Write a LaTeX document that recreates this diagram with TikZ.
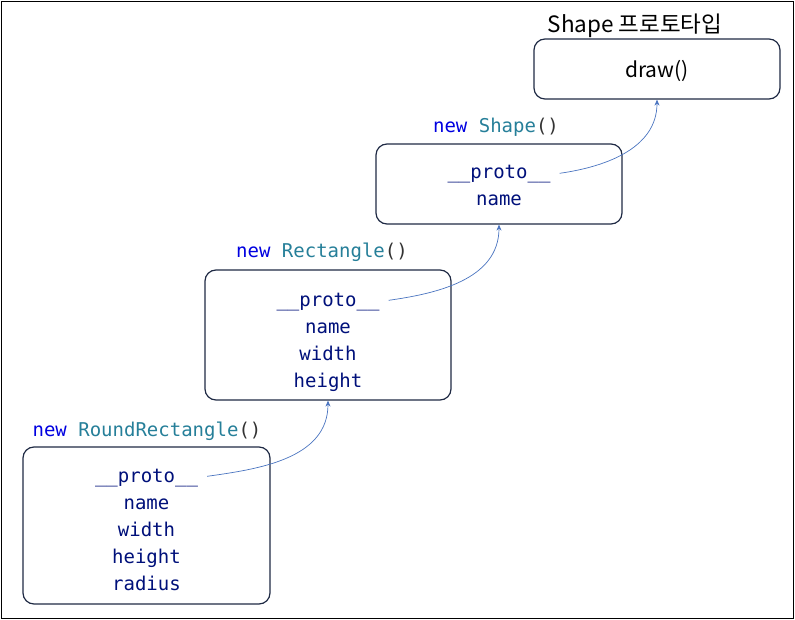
\documentclass[tikz,border=0pt]{standalone}
\usepackage{fontspec}
\newfontfamily\kr{Noto Sans CJK KR}
\newfontfamily\mono{DejaVu Sans Mono}
\usetikzlibrary{arrows.meta}
\definecolor{kwblue}{HTML}{0000E0}
\definecolor{clsteal}{HTML}{267F99}
\definecolor{fieldnavy}{HTML}{00107A}
\definecolor{boxline}{HTML}{1F2A44}
\definecolor{arrowblue}{HTML}{4A74C0}
\tikzset{
  box/.style={draw=boxline, line width=1.2pt, rounded corners=11pt, inner sep=0pt},
  field/.style={font=\mono\fontsize{19}{23}\selectfont, text=fieldnavy, anchor=base, inner sep=0pt},
  lbl/.style={font=\mono\fontsize{19}{23}\selectfont, anchor=base, inner sep=0pt},
  link/.style={draw=arrowblue, line width=0.7pt, shorten <=9pt, -{Stealth[length=6pt,width=5pt]}},
}
\begin{document}
\begin{tikzpicture}[x=1pt,y=-1pt]
\useasboundingbox (0,0) rectangle (795,620);
\draw[black, line width=1.4pt] (1.5,1.5) rectangle (793.5,618.5);

% prototype box
\node[box, minimum width=246pt, minimum height=60pt] (protobox) at (657,69) {};
\node[font=\kr\fontsize{22.5}{26}\selectfont, anchor=base, inner sep=0pt] (protolbl) at (635,33) {Shape 프로토타입};
\node[font=\kr\fontsize{21}{24}\selectfont, anchor=base, inner sep=0pt] (drawfn) at (657,78) {draw()};

% Shape box
\node[box, minimum width=246pt, minimum height=80pt] (shapebox) at (499,184) {};
\node[lbl] (shapelbl) at (496,133) {\textcolor{kwblue}{new} \textcolor{clsteal}{Shape}\textcolor{black!80}{()}};
\node[field] (sp) at (499,179) {\_\_proto\_\_};
\node[field] (sn) at (499,206) {name};

% Rectangle box
\node[box, minimum width=246pt, minimum height=130pt] (rectbox) at (328,335) {};
\node[lbl] (rectlbl) at (322,258) {\textcolor{kwblue}{new} \textcolor{clsteal}{Rectangle}\textcolor{black!80}{()}};
\node[field] (rp) at (328,306) {\_\_proto\_\_};
\node[field] (rn) at (328,333) {name};
\node[field] (rw) at (328,360) {width};
\node[field] (rh) at (328,387) {height};

% RoundRectangle box
\node[box, minimum width=247pt, minimum height=157pt] (rrbox) at (146.5,525.5) {};
\node[lbl] (rrlbl) at (147,436) {\textcolor{kwblue}{new} \textcolor{clsteal}{RoundRectangle}\textcolor{black!80}{()}};
\node[field] (qp) at (146.5,482) {\_\_proto\_\_};
\node[field] (qn) at (146.5,509) {name};
\node[field] (qw) at (146.5,536) {width};
\node[field] (qh) at (146.5,563) {height};
\node[field] (qr) at (146.5,590) {radius};

% prototype links
\draw[link] (qp.east) to[out=8, in=-90] (rectbox.south);
\draw[link] (rp.east) to[out=8, in=-90] (shapebox.south);
\draw[link] (sp.east) to[out=8, in=-90] (protobox.south);
\end{tikzpicture}
\end{document}
